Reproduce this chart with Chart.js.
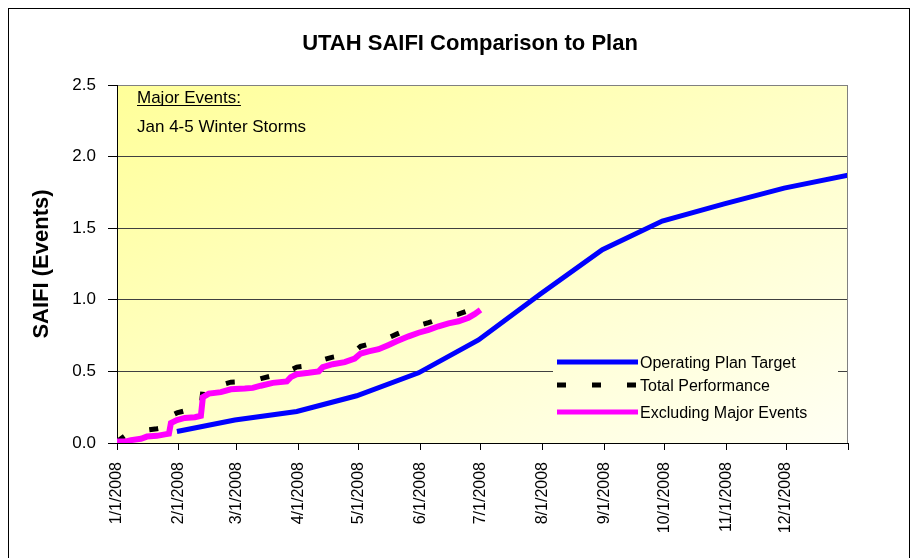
<!DOCTYPE html>
<html>
<head>
<meta charset="UTF-8">
<title>UTAH SAIFI Comparison to Plan</title>
<script src="https://cdn.jsdelivr.net/npm/chart.js"></script>
<style>
  body { margin: 0; background: #fff; }
  canvas { display: block; }
</style>
</head>
<body>
<canvas id="saifiChart" width="912" height="558"></canvas>
<script>
// x values are days counted from 1/1/2008
const monthDays = [0, 31, 60, 91, 121, 152, 182, 213, 244, 274, 305, 335, 366];
const monthLabels = ['1/1/2008', '2/1/2008', '3/1/2008', '4/1/2008', '5/1/2008', '6/1/2008',
                     '7/1/2008', '8/1/2008', '9/1/2008', '10/1/2008', '11/1/2008', '12/1/2008', ''];

// Operating Plan Target (monthly)
const planDays = [30, 59, 90, 120, 151, 181, 212, 243, 273, 304, 334, 366];
const planTarget = [0.08, 0.16, 0.22, 0.33, 0.49, 0.72, 1.04, 1.35, 1.55, 1.67, 1.78, 1.87];

// year to date actuals
const actualDays = [0, 4, 7, 12, 15, 20, 24, 26, 27, 30, 34, 39, 42, 43, 46, 52, 57, 64, 68, 72, 78, 85,
                    87, 90, 96, 101, 103, 108, 114, 119, 122, 126, 131, 136, 140, 146, 151, 156, 161, 166, 171, 176, 179, 182];
const totalPerformance = [0.01, 0.05, 0.065, 0.075, 0.09, 0.1, 0.11, 0.115, 0.19, 0.21, 0.225, 0.23, 0.24, 0.37, 0.395,
                          0.405, 0.425, 0.43, 0.435, 0.45, 0.47, 0.48, 0.51, 0.53, 0.54, 0.55, 0.58, 0.6, 0.615, 0.64,
                          0.675, 0.69, 0.705, 0.735, 0.76, 0.795, 0.82, 0.84, 0.865, 0.885, 0.9, 0.925, 0.95, 0.98];
const excludingMajor = [0.01, 0.01, 0.02, 0.03, 0.045, 0.05, 0.06, 0.065, 0.14, 0.16, 0.175, 0.18, 0.19, 0.32, 0.345,
                        0.355, 0.375, 0.38, 0.385, 0.4, 0.42, 0.43, 0.46, 0.48, 0.49, 0.5, 0.53, 0.55, 0.565, 0.59,
                        0.625, 0.64, 0.655, 0.685, 0.71, 0.745, 0.77, 0.79, 0.815, 0.835, 0.85, 0.875, 0.9, 0.93];

const FONT = '"Liberation Sans", Arial, sans-serif';

function points(xs, ys) {
    return xs.map((x, i) => ({ x: x, y: ys[i] }));
}

// fill a rect with the plot's diagonal gradient (box-relative like Excel)
function fillPlotGradient(ctx, a, x, y, w, h) {
    ctx.save();
    ctx.beginPath();
    ctx.rect(x, y, w, h);
    ctx.clip();
    ctx.translate(a.left, a.top);
    ctx.scale(a.right - a.left, a.bottom - a.top);
    const g = ctx.createLinearGradient(0, 0, 1, 1);
    g.addColorStop(0, '#FFFF99');
    g.addColorStop(1, '#FFFFF4');
    ctx.fillStyle = g;
    ctx.fillRect(0, 0, 1, 1);
    ctx.restore();
}

// frame, plot background, title, note box and legend
const chartDecor = {
    id: 'chartDecor',
    beforeDraw(chart) {
        const { ctx, chartArea: a } = chart;
        ctx.save();
        ctx.strokeStyle = '#000';
        ctx.lineWidth = 1;
        ctx.strokeRect(8.5, 8.5, 901, 600);

        fillPlotGradient(ctx, a, a.left, a.top, a.right - a.left, a.bottom - a.top);

        ctx.fillStyle = '#000';
        ctx.font = 'bold 22px ' + FONT;
        ctx.textAlign = 'center';
        ctx.textBaseline = 'middle';
        ctx.fillText('UTAH SAIFI Comparison to Plan', 470, 44);
        ctx.restore();
    },
    afterDraw(chart) {
        const { ctx, chartArea: a } = chart;
        ctx.save();
        ctx.strokeStyle = '#808080';
        ctx.lineWidth = 1;
        ctx.beginPath();
        ctx.moveTo(a.right - 0.5, a.top);
        ctx.lineTo(a.right - 0.5, a.bottom);
        ctx.stroke();

        // major events note
        ctx.fillStyle = '#000';
        ctx.font = '17px ' + FONT;
        ctx.textAlign = 'left';
        ctx.textBaseline = 'alphabetic';
        ctx.fillText('Major Events:', 137, 103);
        ctx.fillRect(137, 105, ctx.measureText('Major Events:').width, 1);
        ctx.fillText('Jan 4-5 Winter Storms', 137, 132);

        // legend
        fillPlotGradient(ctx, a, 553, 350, 285, 76);
        const rows = [362, 385, 412];
        chart.data.datasets.forEach((ds, i) => {
            const y = rows[i];
            ctx.strokeStyle = ds.borderColor;
            ctx.lineWidth = 5;
            ctx.setLineDash(ds.borderDash || []);
            ctx.beginPath();
            ctx.moveTo(557, y);
            ctx.lineTo(638, y);
            ctx.stroke();
            ctx.setLineDash([]);
            ctx.fillStyle = '#000';
            ctx.font = '16px ' + FONT;
            ctx.textBaseline = 'middle';
            ctx.fillText(ds.label, 640, y + 2);
        });
        ctx.restore();
    }
};

new Chart(document.getElementById('saifiChart'), {
    type: 'line',
    data: {
        datasets: [{
            label: 'Operating Plan Target',
            data: points(planDays, planTarget),
            borderColor: '#0000FF',
            borderWidth: 5,
            pointRadius: 0,
            order: 2
        }, {
            label: 'Total Performance',
            data: points(actualDays, totalPerformance),
            borderColor: '#000000',
            borderWidth: 5,
            borderDash: [9, 26],
            pointRadius: 0,
            order: 1
        }, {
            label: 'Excluding Major Events',
            data: points(actualDays, excludingMajor),
            borderColor: '#FF00FF',
            borderWidth: 6,
            pointRadius: 0,
            order: 0
        }]
    },
    options: {
        responsive: false,
        animation: false,
        layout: { padding: { top: 85, right: 64, bottom: 0, left: 0 } },
        plugins: {
            legend: { display: false },
            title: { display: false },
            tooltip: { enabled: false }
        },
        scales: {
            x: {
                type: 'linear',
                min: 0,
                max: 366,
                afterBuildTicks: s => { s.ticks = monthDays.map(v => ({ value: v })); },
                afterFit: s => { s.height = 115; },
                grid: { drawOnChartArea: false, tickLength: 7, tickColor: '#000' },
                border: { color: '#000' },
                ticks: {
                    autoSkip: false,
                    minRotation: 90,
                    maxRotation: 90,
                    padding: 12,
                    color: '#000',
                    font: { family: FONT, size: 16 },
                    callback: (v, i) => monthLabels[i]
                }
            },
            y: {
                min: 0,
                max: 2.5,
                afterFit: s => { s.width = 117; },
                grid: {
                    color: c => c.tick.value === 2.5 ? '#808080' : '#404040',
                    tickLength: 9,
                    tickColor: '#000'
                },
                border: { color: '#000' },
                ticks: {
                    stepSize: 0.5,
                    padding: 12,
                    color: '#000',
                    font: { family: FONT, size: 17 },
                    callback: v => v.toFixed(1)
                },
                title: {
                    display: true,
                    text: 'SAIFI (Events)',
                    color: '#000',
                    font: { family: FONT, size: 22, weight: 'bold' },
                    padding: { top: 29, bottom: 0 }
                }
            }
        }
    },
    plugins: [chartDecor]
});
</script>
</body>
</html>
